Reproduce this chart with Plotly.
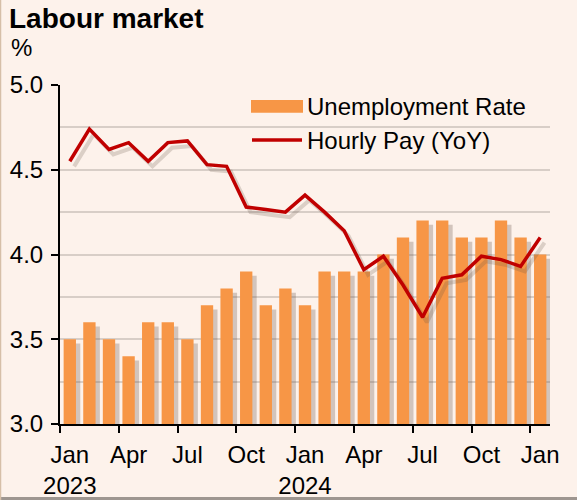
import plotly.graph_objects as go

# ---- data ----
months = ["Jan 2023", "Feb 2023", "Mar 2023", "Apr 2023", "May 2023", "Jun 2023",
          "Jul 2023", "Aug 2023", "Sep 2023", "Oct 2023", "Nov 2023", "Dec 2023",
          "Jan 2024", "Feb 2024", "Mar 2024", "Apr 2024", "May 2024", "Jun 2024",
          "Jul 2024", "Aug 2024", "Sep 2024", "Oct 2024", "Nov 2024", "Dec 2024",
          "Jan 2025"]
unemployment = [3.5, 3.6, 3.5, 3.4, 3.6, 3.6, 3.5, 3.7, 3.8, 3.9, 3.7, 3.8,
                3.7, 3.9, 3.9, 3.9, 4.0, 4.1, 4.2, 4.2, 4.1, 4.1, 4.2, 4.1, 4.0]
hourly_pay = [4.55, 4.74, 4.62, 4.66, 4.55, 4.66, 4.67, 4.53, 4.52, 4.28, 4.265, 4.25,
              4.35, 4.25, 4.14, 3.91, 3.99, 3.82, 3.63, 3.86, 3.88, 3.99, 3.97, 3.93, 4.10]
tick_labels = ["Jan<br>2023", "Apr", "Jul", "Oct", "Jan<br>2024", "Apr", "Jul", "Oct", "Jan"]
series_names = ["Unemployment Rate", "Hourly Pay (YoY)"]

# ---- style ----
BG = "#FDF2EB"
ORANGE = "#F79646"
RED = "#C00000"
GRID = "#D8CEC7"
SHADOW = "rgba(100,80,70,0.28)"
FONT = "Arial, Liberation Sans, sans-serif"
FS = 24

x = list(range(len(months)))
bar_w = 0.63
sh_dx = 0.22
sh_dy = 0.025

fig = go.Figure()
# bar shadows
fig.add_trace(go.Bar(x=x, y=[v - sh_dy for v in unemployment], width=bar_w,
                     offset=-bar_w / 2 + sh_dx, marker=dict(color=SHADOW, line_width=0),
                     showlegend=False, hoverinfo="skip"))
# bars
fig.add_trace(go.Bar(x=x, y=unemployment, width=bar_w, offset=-bar_w / 2,
                     marker=dict(color=ORANGE, line_width=0), name=series_names[0],
                     showlegend=False))
# line shadow
fig.add_trace(go.Scatter(x=[v + sh_dx for v in x], y=[v - 0.03 for v in hourly_pay],
                         mode="lines", line=dict(color="rgba(100,80,70,0.22)", width=4),
                         showlegend=False, hoverinfo="skip"))
# line
fig.add_trace(go.Scatter(x=x, y=hourly_pay, mode="lines", line=dict(color=RED, width=3.5),
                         name=series_names[1], showlegend=False))

L, R, T, B = 60, 27, 85, 76
W, H = 577, 500
pw, ph = W - L - R, H - T - B


def px(xp):
    return (xp - L) / pw


def py(yp):
    return (H - B - yp) / ph


# legend (drawn manually to match the wide swatches)
leg_shapes = [
    dict(type="rect", xref="paper", yref="paper", x0=px(251), x1=px(303),
         y0=py(112.7), y1=py(100), fillcolor=ORANGE, line_width=0),
    dict(type="line", xref="paper", yref="paper", x0=px(252), x1=px(302),
         y0=py(140), y1=py(140), line=dict(color=RED, width=3.5)),
]
leg_annotations = [
    dict(text=series_names[0], xref="paper", yref="paper", x=px(305), y=py(106.5),
         xanchor="left", yanchor="middle", showarrow=False, font=dict(size=FS)),
    dict(text=series_names[1], xref="paper", yref="paper", x=px(305), y=py(140.5),
         xanchor="left", yanchor="middle", showarrow=False, font=dict(size=FS)),
]

fig.update_layout(
    width=W, height=H,
    margin=dict(l=L, r=R, t=T, b=B, autoexpand=False),
    paper_bgcolor=BG, plot_bgcolor=BG,
    barmode="overlay",
    showlegend=False,
    font=dict(family=FONT, size=FS, color="black"),
    title=dict(text="<b>Labour market</b>", x=9 / W, xanchor="left", xref="container",
               y=1 - 8 / H, yanchor="top", yref="container",
               font=dict(size=28, family=FONT, color="black")),
    xaxis=dict(range=[-0.5, len(months) - 0.5], tickmode="array", automargin=False,
               tickvals=x[::3], ticktext=tick_labels, ticks="outside", ticklen=0,
               showline=True, linecolor="black", linewidth=2, showgrid=False, zeroline=False,
               minor=dict(tickmode="linear", tick0=-0.5, dtick=3, ticks="outside",
                          ticklen=7, tickwidth=2, tickcolor="black", showgrid=False),
               tickfont=dict(size=FS), ticklabelstandoff=8),
    yaxis=dict(range=[3, 5], dtick=0.5, tick0=3, tickformat=".1f", ticks="outside",
               automargin=False,
               ticklen=7, tickwidth=2, tickcolor="black", showline=True, linecolor="black",
               linewidth=2, showgrid=True, gridcolor=GRID, gridwidth=2, zeroline=False,
               minor=dict(dtick=0.25, showgrid=True, gridcolor=GRID, gridwidth=2),
               tickfont=dict(size=FS), ticklabelstandoff=3),
    annotations=[dict(text="%", xref="paper", yref="paper", x=px(9),
                      y=py(48), xanchor="left", yanchor="middle",
                      showarrow=False, font=dict(size=FS))] + leg_annotations,
    shapes=[
        dict(type="line", xref="paper", yref="paper", x0=px(0), x1=px(W),
             y0=py(H - 1.5), y1=py(H - 1.5), line=dict(color="#9E9690", width=3)),
        dict(type="line", xref="paper", yref="paper", x0=px(0.5), x1=px(0.5),
             y0=py(H), y1=py(0), line=dict(color="#D6BFA8", width=1.5)),
    ] + leg_shapes,
)

fig.write_html("out.html", config={"displayModeBar": False},
               post_script="document.body.style.margin='0';document.body.style.overflow='hidden';")
